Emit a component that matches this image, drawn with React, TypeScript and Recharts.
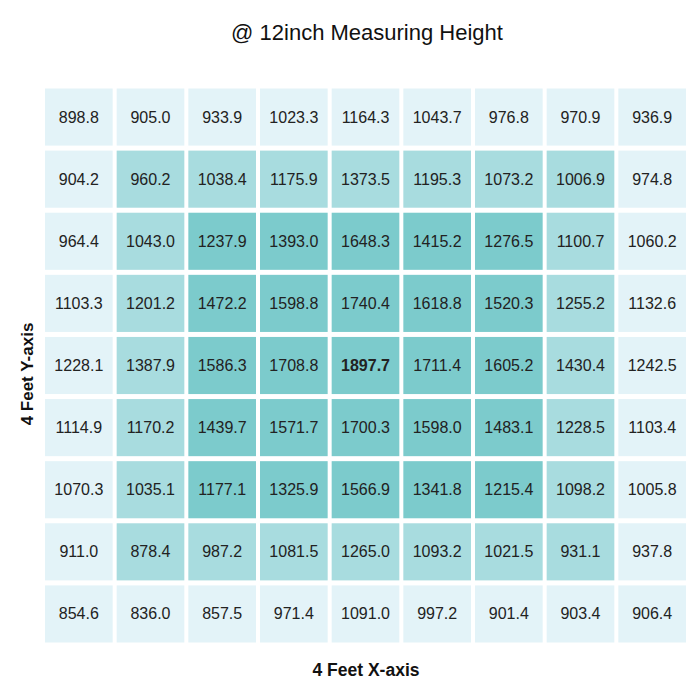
import React from 'react';
import { ScatterChart, Scatter, XAxis, YAxis } from 'recharts';

// lux readings, top row first, left to right
const row1 = [898.8, 905.0, 933.9, 1023.3, 1164.3, 1043.7, 976.8, 970.9, 936.9];
const row2 = [904.2, 960.2, 1038.4, 1175.9, 1373.5, 1195.3, 1073.2, 1006.9, 974.8];
const row3 = [964.4, 1043.0, 1237.9, 1393.0, 1648.3, 1415.2, 1276.5, 1100.7, 1060.2];
const row4 = [1103.3, 1201.2, 1472.2, 1598.8, 1740.4, 1618.8, 1520.3, 1255.2, 1132.6];
const row5 = [1228.1, 1387.9, 1586.3, 1708.8, 1897.7, 1711.4, 1605.2, 1430.4, 1242.5];
const row6 = [1114.9, 1170.2, 1439.7, 1571.7, 1700.3, 1598.0, 1483.1, 1228.5, 1103.4];
const row7 = [1070.3, 1035.1, 1177.1, 1325.9, 1566.9, 1341.8, 1215.4, 1098.2, 1005.8];
const row8 = [911.0, 878.4, 987.2, 1081.5, 1265.0, 1093.2, 1021.5, 931.1, 937.8];
const row9 = [854.6, 836.0, 857.5, 971.4, 1091.0, 997.2, 901.4, 903.4, 906.4];

const rows = [row1, row2, row3, row4, row5, row6, row7, row8, row9];
const N = 9;

const ringColors = ['#e3f3f8', '#a8dcdf', '#7ccbcc'];

const cells = rows.flatMap((row, r) =>
  row.map((value, c) => ({ x: c, y: r, value }))
);
const peak = Math.max(...cells.map((d) => d.value));

const W = 700;
const H = 700;
const margin = { top: 86, left: 43, right: 12, bottom: 55 };
const pitchX = (W - margin.left - margin.right) / N;
const pitchY = (H - margin.top - margin.bottom) / N;
const gapX = 4;
const gapY = 5;

const font = '"Liberation Sans", Arial, sans-serif';

const CellShape = (props: any) => {
  const { cx, cy, payload } = props;
  const ring = Math.min(payload.x, payload.y, N - 1 - payload.x, N - 1 - payload.y);
  const fill = ringColors[Math.min(ring, 2)];
  const w = pitchX - gapX;
  const h = pitchY - gapY;
  return (
    <g>
      <rect x={cx - w / 2} y={cy - h / 2} width={w} height={h} fill={fill} />
      <text
        x={cx}
        y={cy}
        textAnchor="middle"
        dominantBaseline="central"
        fontSize={16}
        fontFamily={font}
        fontWeight={payload.value === peak ? 'bold' : 'normal'}
        fill="#222"
      >
        {payload.value.toFixed(1)}
      </text>
    </g>
  );
};

export default function App() {
  return (
    <div style={{ position: 'absolute', left: 0, top: 0, width: W, height: H, background: '#fff', fontFamily: font }}>
      <ScatterChart width={W} height={H} margin={margin}>
        <XAxis type="number" dataKey="x" domain={[-0.5, N - 0.5]} hide />
        <YAxis type="number" dataKey="y" domain={[-0.5, N - 0.5]} reversed hide />
        <Scatter data={cells} shape={CellShape} isAnimationActive={false} />
      </ScatterChart>
      <div style={{ position: 'absolute', top: 20, left: 0, width: W, paddingLeft: 34, boxSizing: 'border-box', textAlign: 'center', fontSize: 22, color: '#111' }}>
        @ 12inch Measuring Height
      </div>
      <div style={{ position: 'absolute', top: 660, left: 0, width: W, paddingLeft: 32, boxSizing: 'border-box', textAlign: 'center', fontSize: 17.5, fontWeight: 'bold', color: '#111' }}>
        4 Feet X-axis
      </div>
      <div style={{ position: 'absolute', left: 28, top: 374, transform: 'translate(-50%, -50%) rotate(-90deg)', whiteSpace: 'nowrap', fontSize: 17, fontWeight: 'bold', color: '#111' }}>
        4 Feet Y-axis
      </div>
    </div>
  );
}
